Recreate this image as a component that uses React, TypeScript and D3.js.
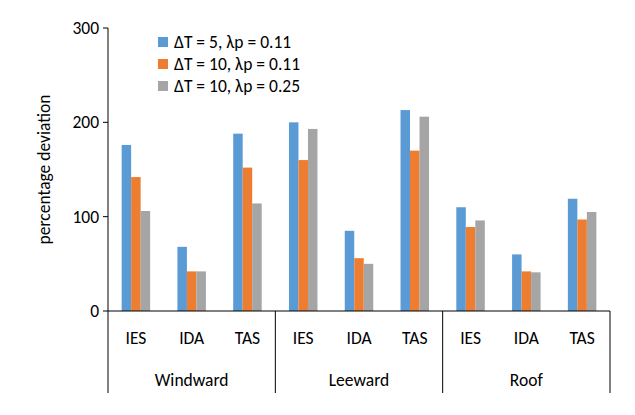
import * as React from "react";
import * as d3 from "d3";

const groups = ["Windward", "Leeward", "Roof"];
const methods = ["IES", "IDA", "TAS"];
const seriesNames = ["ΔT = 5, λp = 0.11", "ΔT = 10, λp = 0.11", "ΔT = 10, λp = 0.25"];
const colors = ["#5B9BD5", "#ED7D31", "#A5A5A5"];
const s1 = [176, 68, 188, 200, 85, 213, 110, 60, 119];
const s2 = [142, 42, 152, 160, 56, 170, 89, 42, 97];
const s3 = [106, 42, 114, 193, 50, 206, 96, 41, 105];
const yTicks = [0, 100, 200, 300];

const App: React.FC = () => {
    const width = 635, height = 415;
    const left = 108, right = 610, top = 28, bottom = 311;
    const font = "Carlito, Lato, sans-serif";
    const cats = groups.flatMap(g => methods.map(m => g + "|" + m));
    const x = d3.scaleBand().domain(cats).range([left, right]);
    const y = d3.scaleLinear().domain([0, 300]).range([bottom, top]);
    const series = [s1, s2, s3];
    const bw = 9.5;
    const gw = (right - left) / groups.length;
    const fs = 17.5;

    return (
        <svg width={width} height={height} style={{position: "absolute", left: 0, top: 0}} fontFamily={font}>
            <rect width={width} height={height} fill="#fff"/>
            {series.map((s, si) => s.map((v, i) => (
                <rect key={si + "-" + i}
                      x={(x(cats[i]) as number) + x.bandwidth() / 2 - 1.5 * bw + si * bw}
                      y={y(v)} width={bw} height={y(0) - y(v)} fill={colors[si]}/>
            )))}
            <line x1={left} x2={left} y1={top} y2={bottom} stroke="#000"/>
            <line x1={left} x2={right} y1={bottom} y2={bottom} stroke="#000"/>
            {yTicks.map(t => (
                <g key={t}>
                    <line x1={left - 5} x2={left} y1={y(t)} y2={y(t)} stroke="#000"/>
                    <text x={left - 9} y={y(t)} dy="0.35em" textAnchor="end" fontSize={fs}>{t}</text>
                </g>
            ))}
            {d3.range(groups.length + 1).map(i => (
                <line key={i} x1={left + i * gw} x2={left + i * gw} y1={bottom} y2={393} stroke="#000"/>
            ))}
            {cats.map(c => (
                <text key={c} x={(x(c) as number) + x.bandwidth() / 2} y={344} textAnchor="middle" fontSize={fs}>{c.split("|")[1]}</text>
            ))}
            {groups.map((g, i) => (
                <text key={g} x={left + (i + 0.5) * gw} y={386} textAnchor="middle" fontSize={fs}>{g}</text>
            ))}
            <text transform={`translate(50,${(top + bottom) / 2}) rotate(-90)`} textAnchor="middle" fontSize={fs}>percentage deviation</text>
            {seriesNames.map((n, i) => (
                <g key={n} transform={`translate(158,${42 + i * 22})`}>
                    <rect x={0} y={-5} width={10} height={10} fill={colors[i]}/>
                    <text x={16} y={0} dy="0.35em" fontSize={fs}>{n}</text>
                </g>
            ))}
        </svg>
    );
};

export default App;
